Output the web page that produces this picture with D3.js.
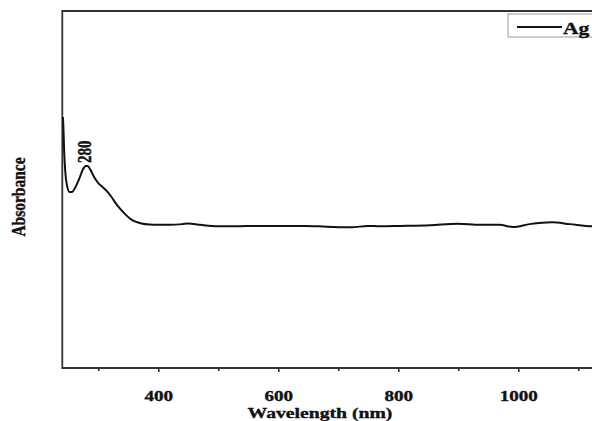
<!DOCTYPE html>
<html>
<head>
<meta charset="utf-8">
<script src="https://cdn.jsdelivr.net/npm/d3@7"></script>
<style>
  body { margin: 0; background: #fff; }
  svg { display: block; }
  text { font-family: "Liberation Serif", "Times New Roman", serif; font-weight: bold; fill: #111; stroke: #111; stroke-width: 0.35px; }
</style>
</head>
<body>
<div id="chart"></div>
<script>
// Sizing
const svgWidth = 592,
  svgHeight = 421;
const margin = { left: 62.3, top: 11 };
const plotWidth = 546,
  plotHeight = 357;
const stretch = 1.27; // the source figure is stretched sideways

// Content
const xTicks = [400, 600, 800, 1000];
const xMinorTicks = [300, 500, 700, 900, 1100];
const xAxisTitle = "Wavelength (nm)";
const yAxisTitle = "Absorbance";
const seriesName = "Ag";
const peakLabel = "280";

// Ag spectrum (wavelength nm, absorbance a.u.)
const wavelength = [241, 242, 243, 245, 248, 252, 256, 262, 268, 274, 279, 282, 287, 293, 300,
  307, 314, 322, 330, 338, 346, 354, 362, 372, 385, 400, 420, 440, 450, 470, 500, 530, 561, 600,
  644, 680, 722, 749, 769, 803, 853, 899, 936, 969, 991, 1019, 1056, 1086, 1123, 1150];
const absorbance = [0.703, 0.667, 0.611, 0.549, 0.510, 0.493, 0.493, 0.507, 0.529, 0.555, 0.566,
  0.566, 0.555, 0.535, 0.518, 0.507, 0.496, 0.479, 0.459, 0.443, 0.429, 0.417, 0.410, 0.405,
  0.402, 0.401, 0.401, 0.403, 0.405, 0.401, 0.397, 0.397, 0.398, 0.398, 0.398, 0.396, 0.394,
  0.398, 0.397, 0.398, 0.400, 0.404, 0.401, 0.401, 0.395, 0.403, 0.408, 0.403, 0.397, 0.398];

const data = wavelength.map((w, i) => ({ w: w, a: absorbance[i] }));

/** Create SVG */
var svg = d3.select("#chart")
  .append("svg")
  .attr("width", svgWidth)
  .attr("height", svgHeight);

var g = svg.append("g")
  .attr("transform", "translate(" + margin.left + "," + margin.top + ")");

var x = d3.scaleLinear()
  .domain([240, 1150])
  .range([0, plotWidth]);

var y = d3.scaleLinear()
  .domain([0, 1])
  .range([plotHeight, 0]);

/** X-Axis */
var xAxis = g.append("g").classed("axis", true)
  .attr("transform", "translate(0," + plotHeight + ")")
  .call(d3.axisBottom(x).tickValues(xTicks).tickSize(4).tickPadding(18).tickFormat(d3.format("d")));
xAxis.select(".domain").remove();
xAxis.selectAll("text")
  .style("font-size", "15px")
  .attr("transform", "scale(" + stretch + ",1)");

var xMinor = g.append("g").classed("axis", true)
  .attr("transform", "translate(0," + plotHeight + ")")
  .call(d3.axisBottom(x).tickValues(xMinorTicks).tickSize(3).tickFormat(""));
xMinor.select(".domain").remove();

svg.selectAll(".axis line").style("stroke", "#222").style("stroke-width", 1.5);

// frame: left, bottom and top (right edge is cut off)
g.append("path")
  .attr("d", "M" + plotWidth + ",0H0V" + plotHeight + "H" + plotWidth)
  .attr("fill", "none")
  .attr("stroke", "#333")
  .attr("stroke-width", 1.8);

/** Curve */
var line = d3.line()
  .x((d) => x(d.w))
  .y((d) => y(d.a))
  .curve(d3.curveMonotoneX);

g.append("path")
  .datum(data)
  .attr("fill", "none")
  .attr("stroke", "#111")
  .attr("stroke-width", 2)
  .attr("stroke-linejoin", "round")
  .attr("d", line);

// peak label
g.append("text")
  .attr("transform", "translate(" + (x(280) + 5) + "," + (y(0.566) - 3) + ") scale(" + stretch + ",1) rotate(-90)")
  .style("font-size", "15px")
  .text(peakLabel);

/** Titles */
svg.append("text")
  .attr("text-anchor", "middle")
  .attr("transform", "translate(320,418) scale(" + stretch + ",1)")
  .style("font-size", "15.5px")
  .text(xAxisTitle);

svg.append("text")
  .attr("text-anchor", "middle")
  .attr("transform", "translate(25,197) scale(" + stretch + ",1) rotate(-90)")
  .style("font-size", "15.5px")
  .text(yAxisTitle);

/** Legend */
var legend = svg.append("g").attr("transform", "translate(508,14)");
legend.append("rect")
  .attr("width", 100)
  .attr("height", 23)
  .attr("fill", "#fff")
  .attr("stroke", "#999")
  .attr("stroke-width", 1);
legend.append("line")
  .attr("x1", 9).attr("x2", 54)
  .attr("y1", 13).attr("y2", 13)
  .attr("stroke", "#111")
  .attr("stroke-width", 1.8);
legend.append("text")
  .attr("transform", "translate(55,19.5) scale(" + stretch + ",1)")
  .style("font-size", "17px")
  .text(seriesName);
</script>
</body>
</html>
